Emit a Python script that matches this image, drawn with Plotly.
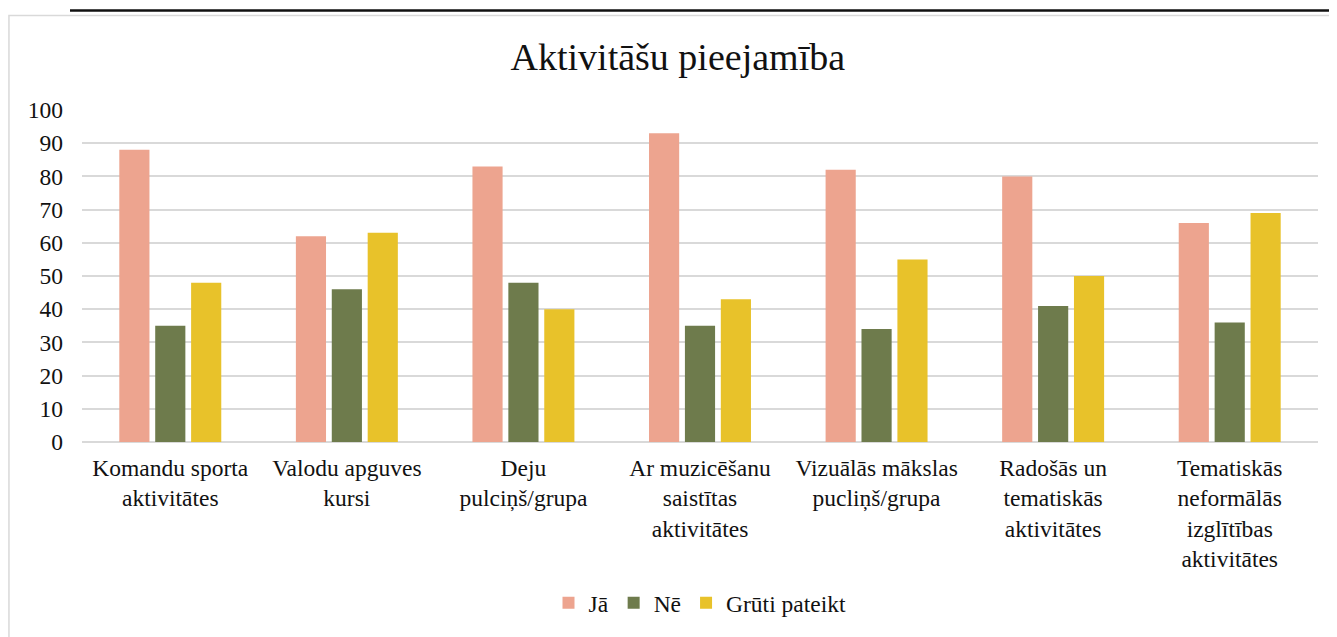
import plotly.graph_objects as go

# Data
categories = [
    "Komandu sporta<br>aktivitātes",
    "Valodu apguves<br>kursi",
    "Deju<br>pulciņš/grupa",
    "Ar muzicēšanu<br>saistītas<br>aktivitātes",
    "Vizuālās mākslas<br>pucliņš/grupa",
    "Radošās un<br>tematiskās<br>aktivitātes",
    "Tematiskās<br>neformālās<br>izglītības<br>aktivitātes",
]
ja = [88, 62, 83, 93, 82, 80, 66]
ne = [35, 46, 48, 35, 34, 41, 36]
gruti = [48, 63, 40, 43, 55, 50, 69]

series_names = ["Jā", "Nē", "Grūti pateikt"]
series_colors = ["#EDA48F", "#6E7B4C", "#E8C22A"]

font_family = "Liberation Serif, Times New Roman, serif"

fig = go.Figure()
for name, vals, col in zip(series_names, [ja, ne, gruti], series_colors):
    fig.add_trace(go.Bar(x=categories, y=vals, name=name, marker=dict(color=col, line=dict(width=0))))

# page has an 8px body margin, so the figure is a bit smaller than the window
fig.update_layout(
    width=1329, height=629,
    barmode="group", bargap=0.39, bargroupgap=0.16,
    paper_bgcolor="white", plot_bgcolor="white",
    margin=dict(l=74, r=19, t=102, b=193),
    font=dict(family=font_family, size=23.5, color="#111111"),
    title=dict(text="Aktivitāšu pieejamība", x=0.504, xanchor="center", y=0.922, yanchor="middle",
               font=dict(family=font_family, size=38, color="#111111")),
    legend=dict(orientation="h", x=0.5, xanchor="center", y=-0.485, yanchor="middle",
                font=dict(size=23.5), itemwidth=30, traceorder="normal"),
    showlegend=True,
)
fig.update_yaxes(range=[0, 100], dtick=10, showgrid=True, gridcolor="#D9D9D9", gridwidth=1.5,
                 zeroline=True, zerolinecolor="#D9D9D9", zerolinewidth=2, ticks="", ticklabelstandoff=18,
                 tickfont=dict(size=23.5, color="#111111"))
fig.update_xaxes(showgrid=False, ticks="", ticklabelstandoff=9, tickfont=dict(size=23.5, color="#111111"))

# chart frame and rule above it
fig.add_shape(type="rect", xref="paper", yref="paper", x0=-0.0591, y0=-0.7, x1=1.1, y1=1.2844,
              line=dict(color="#D9D9D9", width=1.5), fillcolor="rgba(0,0,0,0)", layer="below")
fig.add_shape(type="line", xref="paper", yref="paper", x0=-0.0097, y0=1.3, x1=1.1, y1=1.3,
              line=dict(color="#111111", width=2.5))

fig.write_html("out.html")
